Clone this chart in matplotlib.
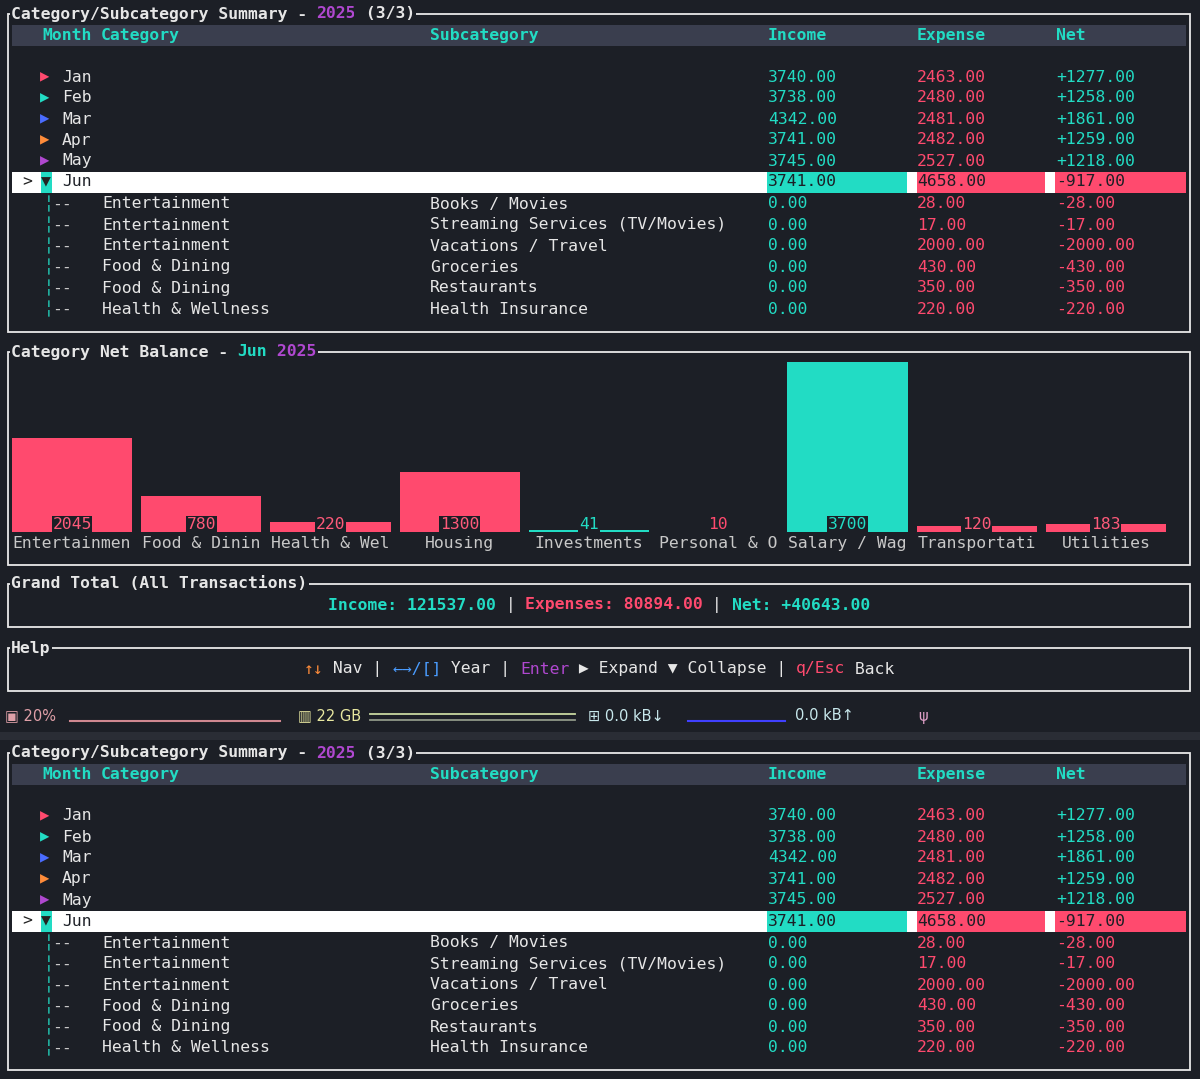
import matplotlib
matplotlib.use("Agg")
import matplotlib.pyplot as plt
from matplotlib.patches import Rectangle

months = ["Jan", "Feb", "Mar", "Apr", "May", "Jun"]
month_colors = ["#ff4a6e", "#22dcc4", "#4a6cff", "#ff8c3a", "#b048d0", "#22dcc4"]
income = [3740.00, 3738.00, 4342.00, 3741.00, 3745.00, 3741.00]
expense = [2463.00, 2480.00, 2481.00, 2482.00, 2527.00, 4658.00]
net = [1277.00, 1258.00, 1861.00, 1259.00, 1218.00, -917.00]

sub_cat = ["Entertainment", "Entertainment", "Entertainment", "Food & Dining", "Food & Dining", "Health & Wellness"]
sub_sub = ["Books / Movies", "Streaming Services (TV/Movies)", "Vacations / Travel", "Groceries", "Restaurants", "Health Insurance"]
sub_inc = [0.00, 0.00, 0.00, 0.00, 0.00, 0.00]
sub_exp = [28.00, 17.00, 2000.00, 430.00, 350.00, 220.00]

bar_cats = ["Entertainment", "Food & Dining", "Health & Wellness", "Housing", "Investments",
            "Personal & Other", "Salary / Wages", "Transportation", "Utilities"]
bar_net = [-2045, -780, -220, -1300, 41, -10, 3700, -120, -183]

grand_income = 121537.00
grand_expense = 80894.00
grand_net = 40643.00

BG = "#1c1f26"; HDR = "#3a3e4e"; CY = "#22dcc4"; RD = "#ff4a6e"; PU = "#b048d0"
WH = "#e6e6e6"; GR = "#c8c8c8"; FS = 11.8
FONT = "DejaVu Sans Mono"

fig = plt.figure(figsize=(12, 10.79), dpi=100)
fig.patch.set_facecolor(BG)
ax = fig.add_axes([0, 0, 1, 1])
ax.set_xlim(0, 1200); ax.set_ylim(1079, 0); ax.axis("off")

def T(x, y, s, c=WH, bold=False, ha="left", **kw):
    ax.text(x, y, s, color=c, fontsize=FS, family=FONT, fontweight="bold" if bold else "normal",
            ha=ha, va="center", **kw)

def box(x0, y0, x1, y1):
    ax.add_patch(Rectangle((x0, y0), x1 - x0, y1 - y0, fill=False, ec="#e8e8e8", lw=1.3))

def title(x, y, parts):
    cx = x
    for s, c in parts:
        ax.text(cx, y, s, color=c, fontsize=FS, family=FONT, fontweight="bold", va="center",
                bbox=dict(fc=BG, ec="none", pad=1))
        cx += len(s) * 9.85

def fmt(v):
    return f"{v:.2f}"

def summary(o, bottom):
    box(8, o + 14, 1190, bottom)
    title(11, o + 14, [("Category/Subcategory Summary - ", WH), ("2025", PU), (" (3/3)", WH)])
    ax.add_patch(Rectangle((12, o + 25), 1174, 21, fc=HDR, ec="none"))
    for x, s in [(42, "Month"), (101, "Category"), (430, "Subcategory"), (768, "Income"), (917, "Expense"), (1056, "Net")]:
        T(x, o + 35.5, s, CY, bold=True)
    for i, m in enumerate(months):
        y = o + 77 + 21 * i
        if i == 5:
            ax.add_patch(Rectangle((12, y - 10.5), 1174, 21, fc="#ffffff", ec="none"))
            ax.add_patch(Rectangle((767, y - 10.5), 140, 21, fc=CY, ec="none"))
            ax.add_patch(Rectangle((917, y - 10.5), 128, 21, fc=RD, ec="none"))
            ax.add_patch(Rectangle((1055, y - 10.5), 131, 21, fc=RD, ec="none"))
            ax.add_patch(Rectangle((41, y - 10.5), 11, 21, fc=CY, ec="none"))
            T(22, y, ">", "#222")
            T(41, y, "▼", "#222")
            tc = "#1c1f26"
        else:
            ax.text(40, y, "▶", color=month_colors[i], fontsize=FS * 0.95, family=FONT, va="center")
            tc = None
        T(62, y, m, tc or WH)
        T(768, y, fmt(income[i]), tc or CY)
        T(917, y, fmt(expense[i]), tc or RD)
        T(1056, y, f"{net[i]:+.2f}", tc or (CY if net[i] >= 0 else RD))
    for j in range(len(sub_cat)):
        y = o + 204 + 21 * j
        T(44, y, "╎", CY)
        T(52, y, "--", GR)
        T(102, y, sub_cat[j])
        T(430, y, sub_sub[j])
        T(768, y, fmt(sub_inc[j]), CY)
        T(917, y, fmt(sub_exp[j]), RD)
        T(1056, y, f"{sub_inc[j] - sub_exp[j]:.2f}", RD)

summary(0, 332)
summary(739, 1070)

# Category net balance chart
box(8, 352, 1190, 565)
title(11, 352, [("Category Net Balance - ", WH), ("Jun", CY), (" 2025", PU)])
bx = fig.add_axes([12 / 1200, 1 - 532 / 1079, 1154 / 1200, 170 / 1079])
bx.set_facecolor("none"); bx.axis("off")
xs = list(range(len(bar_cats)))
hv = [abs(v) for v in bar_net]
cols = [CY if v > 0 else RD for v in bar_net]
bx.bar(xs, hv, width=120 / 129, color=cols, align="edge")
bx.set_xlim(0, len(bar_cats) - 1 + 120 / 129)
bx.set_ylim(0, max(hv))
for x, v, c, name in zip(xs, hv, cols, bar_cats):
    bx.text(x + 0.465, 0, str(v), color=c if c == CY or v < 50 else "#ff5a7a", fontsize=FS,
            family=FONT, ha="center", va="bottom",
            bbox=dict(fc=BG, ec="none", pad=0.5))
    bx.text(x + 0.465, -0.065, name[:12], color=GR, fontsize=FS, family=FONT, ha="center", va="center",
            transform=bx.get_xaxis_transform(), clip_on=False)

# Grand total
box(8, 584, 1190, 627)
title(11, 584, [("Grand Total (All Transactions)", WH)])
gt = [(f"Income: {grand_income:.2f}", CY, True), (" | ", WH, False),
      (f"Expenses: {grand_expense:.2f}", RD, True), (" | ", WH, False),
      (f"Net: {grand_net:+.2f}", CY, True)]
total_len = sum(len(s) for s, _, _ in gt)
cx = 599 - total_len * 9.85 / 2
for s, c, b in gt:
    T(cx, 605, s, c, bold=b)
    cx += len(s) * 9.85

# Help
box(8, 648, 1190, 691)
title(11, 648, [("Help", WH)])
hp = [("↑↓", "#ff8c3a"), (" Nav | ", WH), ("←→/[]", "#4a9cff"), (" Year | ", WH), ("Enter", PU),
      (" ▶ Expand ▼ Collapse | ", WH), ("q/Esc", RD), (" Back", WH)]
total_len = sum(len(s) for s, _ in hp)
cx = 599 - total_len * 9.85 / 2
for s, c in hp:
    T(cx, 669, s, c)
    cx += len(s) * 9.85

# status bar
ax.add_patch(Rectangle((0, 732), 1200, 8, fc="#2a2d35", ec="none"))
ax.text(5, 716, "▣ 20%", color="#e0a0a8", fontsize=10.5, family="DejaVu Sans", va="center")
ax.plot([70, 280], [721, 721], color="#d08890", lw=1.5)
ax.text(298, 716, "▥ 22 GB", color="#e8e8a0", fontsize=10.5, family="DejaVu Sans", va="center")
ax.plot([370, 575], [714, 714], color="#c8d8a0", lw=1.3)
ax.plot([370, 575], [720, 720], color="#909888", lw=1.3)
ax.text(588, 716, "⊞ 0.0 kB↓", color="#c8e8ec", fontsize=10.5, family="DejaVu Sans", va="center")
ax.plot([688, 785], [721, 721], color="#4040ff", lw=1.5)
ax.text(795, 716, "0.0 kB↑", color="#c8e8ec", fontsize=10.5, family="DejaVu Sans", va="center")
ax.text(918, 716, "ψ", color="#e0a0c8", fontsize=10.5, family="DejaVu Sans", va="center")

fig.savefig("out.png", dpi=100, facecolor=BG)
